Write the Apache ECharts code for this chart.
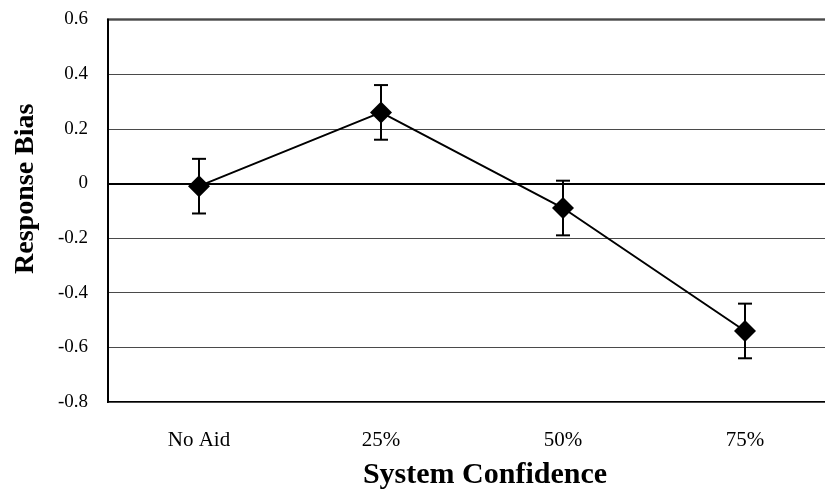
<!DOCTYPE html>
<html>
<head>
<meta charset="utf-8">
<script src="https://cdn.jsdelivr.net/npm/echarts@6/dist/echarts.min.js"></script>
<style>
  html, body { margin: 0; padding: 0; background: #fff; }
  #chart { width: 825px; height: 493px; }
</style>
</head>
<body>
<div id="chart"></div>
<script>
// Response bias by system confidence level (means with ±1 SE error bars)
const categories = ['No Aid', '25%', '50%', '75%'];
const meanBias = [-0.01, 0.26, -0.09, -0.54];
const errorSize = [0.10, 0.10, 0.10, 0.10];
const yTicks = { min: -0.8, max: 0.6, step: 0.2 };

const serif = '"Liberation Serif", "Times New Roman", serif';

const errorData = categories.map((c, i) => [i, meanBias[i] - errorSize[i], meanBias[i] + errorSize[i]]);

const chart = echarts.init(document.getElementById('chart'), null, { renderer: 'canvas' });

chart.setOption({
  animation: false,
  backgroundColor: '#ffffff',
  grid: {
    left: 108, top: 19.5, width: 728, height: 382.5,
    outerBoundsMode: 'none',
    containLabel: false,
    show: true, borderColor: '#000', borderWidth: 2, backgroundColor: 'transparent'
  },
  xAxis: {
    type: 'category',
    data: categories,
    boundaryGap: true,
    axisLine: { show: true, lineStyle: { color: '#000', width: 2 } },
    axisTick: { show: false },
    axisLabel: { color: '#000', fontFamily: serif, fontSize: 21, margin: 28 },
    name: 'System Confidence',
    nameLocation: 'middle',
    nameGap: 58,
    nameTextStyle: { color: '#000', fontFamily: serif, fontWeight: 'bold', fontSize: 30, padding: [0, 0, 0, 26] }
  },
  yAxis: {
    type: 'value',
    min: yTicks.min, max: yTicks.max, interval: yTicks.step,
    axisLine: { show: true, lineStyle: { color: '#000', width: 2 } },
    axisTick: { show: false },
    axisLabel: {
      color: '#000', fontFamily: serif, fontSize: 19, margin: 20,
      formatter: v => {
        const r = Math.round(v * 10) / 10;
        return r === 0 ? '0' : r.toFixed(1);
      }
    },
    splitLine: { show: true, lineStyle: { color: '#4a4a4a', width: 1 } },
    name: 'Response Bias',
    nameLocation: 'middle',
    nameGap: 68,
    nameRotate: 90,
    nameTextStyle: { color: '#000', fontFamily: serif, fontWeight: 'bold', fontSize: 28, padding: [0, 0, 0, 44] }
  },
  series: [
    {
      type: 'custom',
      name: 'error',
      z: 3,
      data: errorData,
      renderItem: (params, api) => {
        const x = api.value(0);
        const lo = api.coord([x, api.value(1)]);
        const hi = api.coord([x, api.value(2)]);
        const cap = 7;
        const style = { stroke: '#000', lineWidth: 2, fill: null };
        return {
          type: 'group',
          children: [
            { type: 'line', shape: { x1: hi[0], y1: hi[1], x2: lo[0], y2: lo[1] }, style },
            { type: 'line', shape: { x1: hi[0] - cap, y1: hi[1], x2: hi[0] + cap, y2: hi[1] }, style },
            { type: 'line', shape: { x1: lo[0] - cap, y1: lo[1], x2: lo[0] + cap, y2: lo[1] }, style }
          ]
        };
      }
    },
    {
      type: 'line',
      name: 'Response Bias',
      z: 4,
      data: meanBias,
      symbol: 'diamond',
      symbolSize: 22,
      itemStyle: { color: '#000' },
      lineStyle: { color: '#000', width: 2 },
      markLine: {
        silent: true,
        symbol: 'none',
        label: { show: false },
        lineStyle: { color: '#000', width: 2, type: 'solid' },
        data: [{ yAxis: 0 }]
      }
    }
  ]
});
</script>
</body>
</html>
